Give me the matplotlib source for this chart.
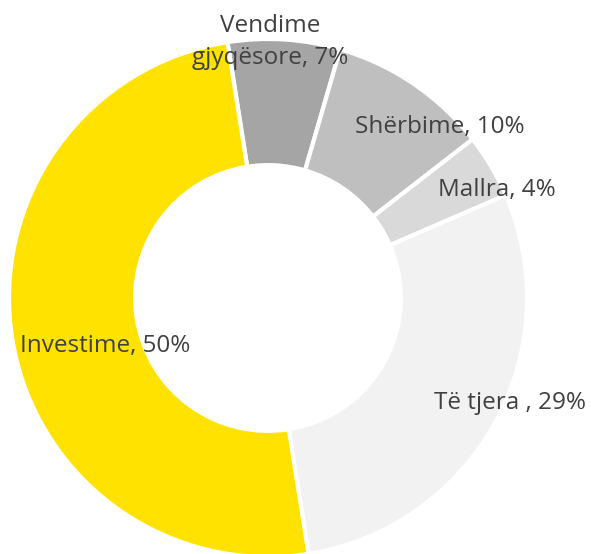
import matplotlib

matplotlib.use("Agg")
import matplotlib.pyplot as plt  # noqa: E402

labels = ["Vendime\ngjyqësore, 7%", "Shërbime, 10%", "Mallra, 4%", "Të tjera , 29%", "Investime, 50%"]
values = [7, 10, 4, 29, 50]
colors = ["#a5a5a5", "#bfbfbf", "#d9d9d9", "#f2f2f2", "#ffe200"]

# label positions in pixels (x, y from top) of the original picture
label_px = [(270, 42), (440, 127), (497, 190), (510, 403), (105, 346)]

W, H = 591, 554
CX, CY, R = 268, 298, 259

fig = plt.figure(figsize=(W / 100, H / 100), dpi=100)
ax = fig.add_axes([0, 0, 1, 1])
ax.pie(
    values,
    colors=colors,
    startangle=99,
    counterclock=False,
    radius=1.0,
    wedgeprops={"width": 0.487, "edgecolor": "white", "linewidth": 3},
)
ax.set_xlim(-CX / R, (W - CX) / R)
ax.set_ylim(-(H - CY) / R, CY / R)
ax.set_aspect("equal")
ax.axis("off")

for text, (px, py) in zip(labels, label_px):
    ax.text(
        (px - CX) / R,
        (CY - py) / R,
        text,
        ha="center",
        va="center",
        fontsize=17.5,
        color="#404040",
        family="Open Sans",
        linespacing=1.45,
    )

fig.savefig("out.png", dpi=100, facecolor="white")
plt.close(fig)
